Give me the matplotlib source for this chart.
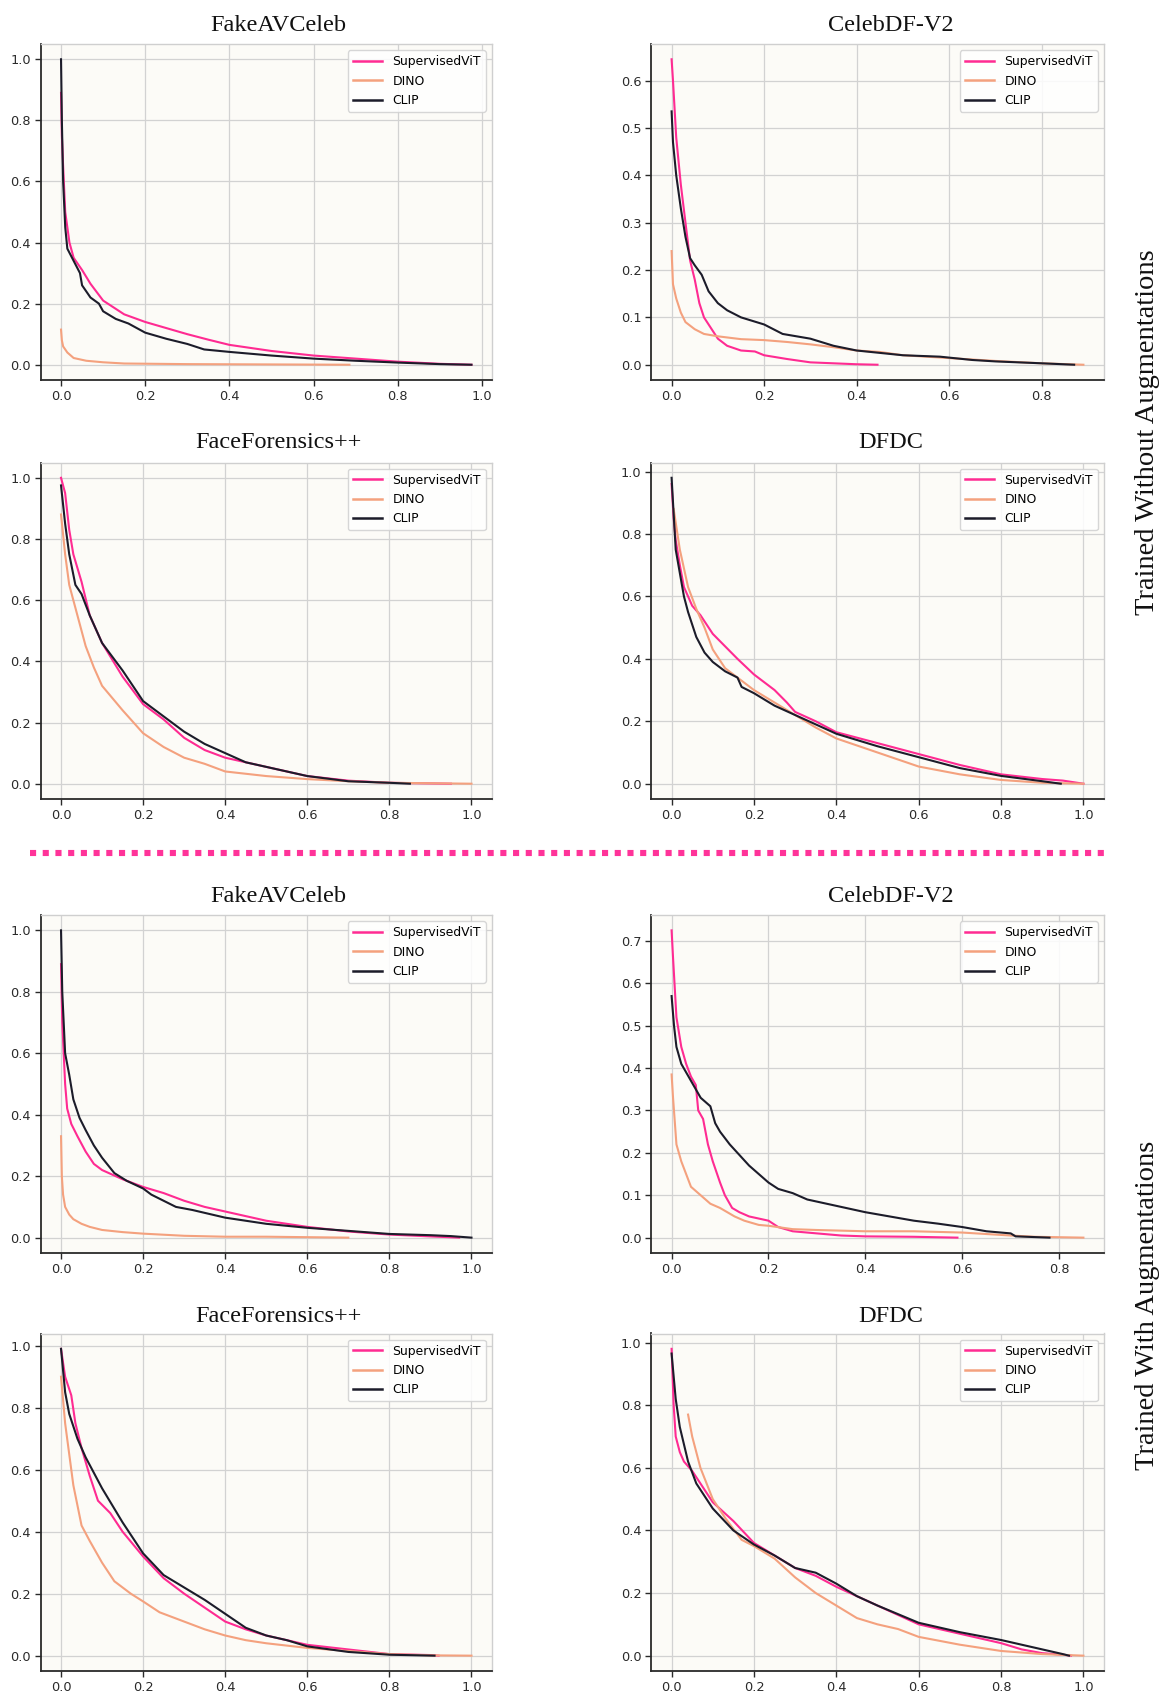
import matplotlib
matplotlib.use("Agg")
import matplotlib.pyplot as plt
from matplotlib.ticker import MultipleLocator
from matplotlib.lines import Line2D

# ---------------- data ----------------
series_names = ["SupervisedViT", "DINO", "CLIP"]
series_colors = ["#FF2B92", "#F4A17E", "#1C1C2A"]
dataset_titles = ["FakeAVCeleb", "CelebDF-V2", "FaceForensics++", "DFDC"]
group_labels = ["Trained Without Augmentations", "Trained With Augmentations"]

# ---- Without augmentations ----
# FakeAVCeleb
fav0_vit_x = [0, 0.002, 0.005, 0.01, 0.02, 0.03, 0.05, 0.07, 0.1, 0.15, 0.2, 0.25, 0.3, 0.35, 0.4, 0.45, 0.5, 0.6, 0.7, 0.8, 0.9, 0.975]
fav0_vit_y = [0.89, 0.75, 0.65, 0.5, 0.40, 0.35, 0.31, 0.265, 0.21, 0.165, 0.14, 0.12, 0.10, 0.082, 0.065, 0.055, 0.045, 0.03, 0.02, 0.01, 0.003, 0.0]
fav0_dino_x = [0, 0.002, 0.005, 0.015, 0.03, 0.06, 0.1, 0.15, 0.3, 0.5, 0.685]
fav0_dino_y = [0.115, 0.08, 0.06, 0.04, 0.022, 0.013, 0.008, 0.004, 0.002, 0.001, 0.0]
fav0_clip_x = [0, 0.002, 0.005, 0.01, 0.015, 0.03, 0.045, 0.05, 0.07, 0.09, 0.1, 0.13, 0.16, 0.2, 0.25, 0.3, 0.34, 0.4, 0.5, 0.6, 0.7, 0.8, 0.9, 0.975]
fav0_clip_y = [1.0, 0.8, 0.6, 0.45, 0.38, 0.34, 0.30, 0.26, 0.22, 0.20, 0.175, 0.15, 0.135, 0.105, 0.085, 0.068, 0.05, 0.042, 0.03, 0.02, 0.013, 0.007, 0.002, 0.0]
# CelebDF-V2
cdf0_vit_x = [0, 0.003, 0.01, 0.02, 0.03, 0.04, 0.05, 0.06, 0.07, 0.08, 0.09, 0.1, 0.12, 0.15, 0.18, 0.2, 0.25, 0.3, 0.35, 0.4, 0.445]
cdf0_vit_y = [0.645, 0.6, 0.48, 0.38, 0.30, 0.22, 0.18, 0.13, 0.10, 0.085, 0.07, 0.055, 0.04, 0.03, 0.028, 0.02, 0.012, 0.005, 0.003, 0.001, 0.0]
cdf0_dino_x = [0, 0.003, 0.01, 0.02, 0.03, 0.05, 0.07, 0.1, 0.15, 0.2, 0.25, 0.3, 0.35, 0.4, 0.45, 0.5, 0.6, 0.7, 0.8, 0.89]
cdf0_dino_y = [0.24, 0.17, 0.14, 0.11, 0.09, 0.075, 0.065, 0.06, 0.054, 0.052, 0.048, 0.043, 0.037, 0.03, 0.027, 0.02, 0.014, 0.008, 0.003, 0.0]
cdf0_clip_x = [0, 0.003, 0.01, 0.02, 0.03, 0.04, 0.05, 0.065, 0.08, 0.1, 0.12, 0.15, 0.2, 0.24, 0.3, 0.35, 0.4, 0.45, 0.5, 0.58, 0.65, 0.7, 0.75, 0.8, 0.87]
cdf0_clip_y = [0.535, 0.47, 0.40, 0.33, 0.27, 0.225, 0.21, 0.19, 0.155, 0.13, 0.115, 0.10, 0.085, 0.065, 0.055, 0.04, 0.03, 0.025, 0.02, 0.017, 0.01, 0.007, 0.005, 0.003, 0.0]
# FaceForensics++
ffp0_vit_x = [0, 0.01, 0.02, 0.03, 0.05, 0.07, 0.1, 0.15, 0.2, 0.25, 0.3, 0.35, 0.4, 0.5, 0.6, 0.7, 0.8, 0.9, 0.95]
ffp0_vit_y = [1.0, 0.95, 0.83, 0.75, 0.66, 0.55, 0.46, 0.35, 0.26, 0.21, 0.15, 0.11, 0.085, 0.055, 0.025, 0.01, 0.003, 0.001, 0.0]
ffp0_dino_x = [0, 0.01, 0.02, 0.04, 0.06, 0.08, 0.1, 0.15, 0.2, 0.25, 0.3, 0.35, 0.4, 0.5, 0.6, 0.7, 0.8, 1.0]
ffp0_dino_y = [0.88, 0.75, 0.65, 0.55, 0.45, 0.38, 0.32, 0.24, 0.165, 0.12, 0.085, 0.065, 0.04, 0.025, 0.015, 0.008, 0.003, 0.0]
ffp0_clip_x = [0, 0.01, 0.02, 0.035, 0.05, 0.07, 0.1, 0.15, 0.2, 0.25, 0.3, 0.35, 0.4, 0.45, 0.5, 0.6, 0.7, 0.8, 0.85]
ffp0_clip_y = [0.975, 0.85, 0.75, 0.65, 0.62, 0.55, 0.46, 0.37, 0.27, 0.22, 0.17, 0.13, 0.10, 0.07, 0.055, 0.025, 0.008, 0.003, 0.0]
# DFDC
dfd0_vit_x = [0, 0.005, 0.01, 0.02, 0.03, 0.05, 0.07, 0.1, 0.13, 0.16, 0.2, 0.25, 0.28, 0.3, 0.35, 0.4, 0.5, 0.6, 0.7, 0.8, 0.9, 0.95, 1.0]
dfd0_vit_y = [0.96, 0.85, 0.78, 0.70, 0.63, 0.57, 0.54, 0.48, 0.44, 0.40, 0.35, 0.30, 0.26, 0.23, 0.20, 0.165, 0.13, 0.095, 0.06, 0.03, 0.015, 0.01, 0.0]
dfd0_dino_x = [0.005, 0.02, 0.04, 0.06, 0.08, 0.1, 0.13, 0.16, 0.2, 0.25, 0.3, 0.35, 0.4, 0.5, 0.6, 0.7, 0.8, 0.9, 1.0]
dfd0_dino_y = [0.88, 0.75, 0.63, 0.56, 0.50, 0.43, 0.37, 0.34, 0.30, 0.26, 0.22, 0.18, 0.145, 0.10, 0.055, 0.03, 0.012, 0.003, 0.0]
dfd0_clip_x = [0, 0.01, 0.03, 0.04, 0.06, 0.08, 0.1, 0.13, 0.16, 0.17, 0.2, 0.25, 0.3, 0.35, 0.4, 0.5, 0.6, 0.7, 0.8, 0.9, 0.945]
dfd0_clip_y = [0.98, 0.75, 0.60, 0.55, 0.47, 0.42, 0.39, 0.36, 0.34, 0.31, 0.29, 0.25, 0.22, 0.19, 0.16, 0.12, 0.085, 0.05, 0.025, 0.008, 0.0]

# ---- With augmentations ----
# FakeAVCeleb
fav1_vit_x = [0, 0.003, 0.01, 0.015, 0.025, 0.04, 0.06, 0.08, 0.1, 0.15, 0.2, 0.25, 0.3, 0.35, 0.4, 0.45, 0.5, 0.6, 0.7, 0.8, 0.9, 0.97]
fav1_vit_y = [0.89, 0.70, 0.50, 0.42, 0.37, 0.33, 0.28, 0.24, 0.22, 0.19, 0.165, 0.145, 0.12, 0.10, 0.085, 0.07, 0.055, 0.035, 0.02, 0.01, 0.004, 0.0]
fav1_dino_x = [0, 0.002, 0.005, 0.01, 0.02, 0.03, 0.05, 0.07, 0.1, 0.15, 0.2, 0.3, 0.4, 0.5, 0.7]
fav1_dino_y = [0.33, 0.20, 0.14, 0.10, 0.075, 0.06, 0.045, 0.035, 0.025, 0.018, 0.013, 0.006, 0.003, 0.003, 0.0]
fav1_clip_x = [0, 0.003, 0.01, 0.02, 0.03, 0.045, 0.06, 0.08, 0.1, 0.13, 0.16, 0.2, 0.22, 0.25, 0.28, 0.32, 0.4, 0.45, 0.5, 0.6, 0.7, 0.8, 0.9, 0.95, 1.0]
fav1_clip_y = [1.0, 0.80, 0.60, 0.53, 0.45, 0.39, 0.35, 0.30, 0.26, 0.21, 0.185, 0.16, 0.14, 0.12, 0.10, 0.09, 0.065, 0.055, 0.045, 0.032, 0.022, 0.012, 0.008, 0.005, 0.0]
# CelebDF-V2
cdf1_vit_x = [0, 0.003, 0.01, 0.02, 0.03, 0.04, 0.05, 0.055, 0.065, 0.075, 0.085, 0.1, 0.11, 0.125, 0.14, 0.16, 0.18, 0.2, 0.22, 0.25, 0.3, 0.35, 0.4, 0.5, 0.59]
cdf1_vit_y = [0.725, 0.66, 0.52, 0.45, 0.41, 0.38, 0.36, 0.30, 0.28, 0.22, 0.18, 0.13, 0.10, 0.07, 0.06, 0.05, 0.045, 0.04, 0.025, 0.015, 0.01, 0.005, 0.003, 0.002, 0.0]
cdf1_dino_x = [0, 0.003, 0.01, 0.02, 0.03, 0.04, 0.06, 0.08, 0.1, 0.13, 0.15, 0.18, 0.2, 0.25, 0.3, 0.4, 0.5, 0.6, 0.7, 0.75, 0.85]
cdf1_dino_y = [0.385, 0.33, 0.22, 0.18, 0.15, 0.12, 0.10, 0.08, 0.07, 0.05, 0.04, 0.03, 0.028, 0.02, 0.018, 0.015, 0.015, 0.012, 0.005, 0.002, 0.0]
cdf1_clip_x = [0, 0.005, 0.01, 0.02, 0.04, 0.06, 0.08, 0.09, 0.1, 0.12, 0.14, 0.16, 0.18, 0.2, 0.22, 0.25, 0.28, 0.32, 0.36, 0.4, 0.45, 0.5, 0.55, 0.6, 0.65, 0.7, 0.71, 0.78]
cdf1_clip_y = [0.57, 0.50, 0.45, 0.41, 0.37, 0.33, 0.31, 0.27, 0.25, 0.22, 0.195, 0.17, 0.15, 0.13, 0.115, 0.105, 0.09, 0.08, 0.07, 0.06, 0.05, 0.04, 0.033, 0.025, 0.015, 0.01, 0.003, 0.0]
# FaceForensics++
ffp1_vit_x = [0, 0.01, 0.025, 0.035, 0.05, 0.07, 0.09, 0.12, 0.15, 0.2, 0.25, 0.3, 0.35, 0.4, 0.45, 0.5, 0.6, 0.7, 0.8, 0.9, 0.92]
ffp1_vit_y = [0.99, 0.90, 0.84, 0.75, 0.67, 0.58, 0.50, 0.46, 0.40, 0.32, 0.25, 0.20, 0.155, 0.11, 0.085, 0.065, 0.035, 0.02, 0.005, 0.002, 0.0]
ffp1_dino_x = [0, 0.01, 0.02, 0.03, 0.05, 0.07, 0.1, 0.13, 0.17, 0.2, 0.24, 0.3, 0.35, 0.4, 0.45, 0.5, 0.6, 0.7, 0.8, 0.9, 1.0]
ffp1_dino_y = [0.90, 0.75, 0.65, 0.55, 0.42, 0.37, 0.30, 0.24, 0.20, 0.175, 0.14, 0.11, 0.085, 0.065, 0.05, 0.04, 0.025, 0.015, 0.005, 0.001, 0.0]
ffp1_clip_x = [0, 0.01, 0.02, 0.04, 0.06, 0.08, 0.1, 0.15, 0.2, 0.25, 0.3, 0.35, 0.4, 0.45, 0.5, 0.55, 0.6, 0.7, 0.8, 0.91]
ffp1_clip_y = [0.99, 0.85, 0.78, 0.70, 0.64, 0.59, 0.54, 0.43, 0.33, 0.26, 0.22, 0.18, 0.135, 0.09, 0.065, 0.05, 0.03, 0.012, 0.003, 0.0]
# DFDC
dfd1_vit_x = [0, 0.005, 0.01, 0.02, 0.03, 0.05, 0.07, 0.1, 0.15, 0.2, 0.25, 0.3, 0.35, 0.4, 0.45, 0.5, 0.6, 0.7, 0.8, 0.85, 0.9, 0.95, 0.97]
dfd1_vit_y = [0.98, 0.80, 0.70, 0.65, 0.62, 0.59, 0.55, 0.49, 0.43, 0.36, 0.32, 0.28, 0.255, 0.22, 0.19, 0.16, 0.10, 0.07, 0.04, 0.02, 0.008, 0.003, 0.0]
dfd1_dino_x = [0.04, 0.05, 0.07, 0.1, 0.13, 0.17, 0.2, 0.25, 0.3, 0.35, 0.4, 0.45, 0.5, 0.55, 0.6, 0.7, 0.8, 0.9, 1.0]
dfd1_dino_y = [0.77, 0.70, 0.60, 0.50, 0.44, 0.37, 0.35, 0.31, 0.25, 0.20, 0.16, 0.12, 0.10, 0.085, 0.06, 0.035, 0.015, 0.005, 0.0]
dfd1_clip_x = [0, 0.01, 0.02, 0.04, 0.06, 0.08, 0.1, 0.15, 0.2, 0.25, 0.3, 0.35, 0.4, 0.45, 0.5, 0.6, 0.7, 0.8, 0.85, 0.9, 0.95, 0.965]
dfd1_clip_y = [0.965, 0.82, 0.73, 0.62, 0.55, 0.51, 0.47, 0.40, 0.355, 0.32, 0.28, 0.265, 0.23, 0.19, 0.16, 0.105, 0.075, 0.05, 0.035, 0.02, 0.005, 0.0]

# panel table built from the arrays above (group -> dataset -> series)
panels = [
    [[(fav0_vit_x, fav0_vit_y), (fav0_dino_x, fav0_dino_y), (fav0_clip_x, fav0_clip_y)],
     [(cdf0_vit_x, cdf0_vit_y), (cdf0_dino_x, cdf0_dino_y), (cdf0_clip_x, cdf0_clip_y)],
     [(ffp0_vit_x, ffp0_vit_y), (ffp0_dino_x, ffp0_dino_y), (ffp0_clip_x, ffp0_clip_y)],
     [(dfd0_vit_x, dfd0_vit_y), (dfd0_dino_x, dfd0_dino_y), (dfd0_clip_x, dfd0_clip_y)]],
    [[(fav1_vit_x, fav1_vit_y), (fav1_dino_x, fav1_dino_y), (fav1_clip_x, fav1_clip_y)],
     [(cdf1_vit_x, cdf1_vit_y), (cdf1_dino_x, cdf1_dino_y), (cdf1_clip_x, cdf1_clip_y)],
     [(ffp1_vit_x, ffp1_vit_y), (ffp1_dino_x, ffp1_dino_y), (ffp1_clip_x, ffp1_clip_y)],
     [(dfd1_vit_x, dfd1_vit_y), (dfd1_dino_x, dfd1_dino_y), (dfd1_clip_x, dfd1_clip_y)]],
]

# ---------------- layout (pixels) ----------------
W, H = 1162, 1693
fig = plt.figure(figsize=(W / 100, H / 100), dpi=100)
fig.patch.set_facecolor("white")

col_lr = [(40.5, 492.0), (651.0, 1104.0)]
row_tb = [(44.0, 380.0), (462.5, 799.0), (915.0, 1253.0), (1333.5, 1671.0)]
title_cx = [278.0, 891.0]
title_base = [31.0, 448.0, 902.0, 1322.5]

serif = ["Liberation Serif", "DejaVu Serif"]

def px_rect(l, r, t, b):
    return [l / W, 1 - b / H, (r - l) / W, (b - t) / H]

for g in range(2):
    for k in range(4):
        row = g * 2 + k // 2
        col = k % 2
        l, r = col_lr[col]
        t, b = row_tb[row]
        ax = fig.add_axes(px_rect(l, r, t, b))
        ax.set_facecolor("#FCFBF7")
        for (xs, ys), name, c in zip(panels[g][k], series_names, series_colors):
            ax.plot(xs, ys, color=c, lw=1.5, label=name)
        ax.margins(x=0.05, y=0.05)
        ax.xaxis.set_major_locator(MultipleLocator(0.2))
        if k == 1:
            ax.yaxis.set_major_locator(MultipleLocator(0.1))
        else:
            ax.yaxis.set_major_locator(MultipleLocator(0.2))
        ax.grid(True, color="#D2D2D2", lw=0.9)
        ax.set_axisbelow(True)
        for s in ["left", "bottom"]:
            ax.spines[s].set_color("#2A2A2A")
            ax.spines[s].set_linewidth(1.3)
        for s in ["top", "right"]:
            ax.spines[s].set_color("#CFCFCF")
            ax.spines[s].set_linewidth(1.0)
        ax.tick_params(axis="both", labelsize=9.3, colors="#2A2A2A", length=4, width=1.0, pad=3)
        leg = ax.legend(loc="upper right", fontsize=8.9, framealpha=0.85, edgecolor="#D0D0D0",
                        handlelength=2.4, labelspacing=0.52, borderaxespad=0.5)
        for ln in leg.get_lines():
            ln.set_linewidth(1.8)
        fig.text(title_cx[col] / W, 1 - title_base[row] / H, dataset_titles[k],
                 ha="center", va="baseline", fontsize=17.5, family=serif, color="#111111")

# side group labels
fig.text(1148 / W, 1 - 432 / H, group_labels[0], rotation=90, ha="center", va="center",
         fontsize=20.5, family=serif, color="#111111")
fig.text(1148 / W, 1 - 1305 / H, group_labels[1], rotation=90, ha="center", va="center",
         fontsize=20.5, family=serif, color="#111111")

# dotted separator
sep = Line2D([30 / W, 1104 / W], [1 - 853 / H, 1 - 853 / H], transform=fig.transFigure,
             color="#FF3399", lw=4.4, solid_capstyle="butt", dash_capstyle="butt")
sep.set_dashes((1.0, 1.08))
fig.add_artist(sep)

fig.savefig("out.png", dpi=100)
